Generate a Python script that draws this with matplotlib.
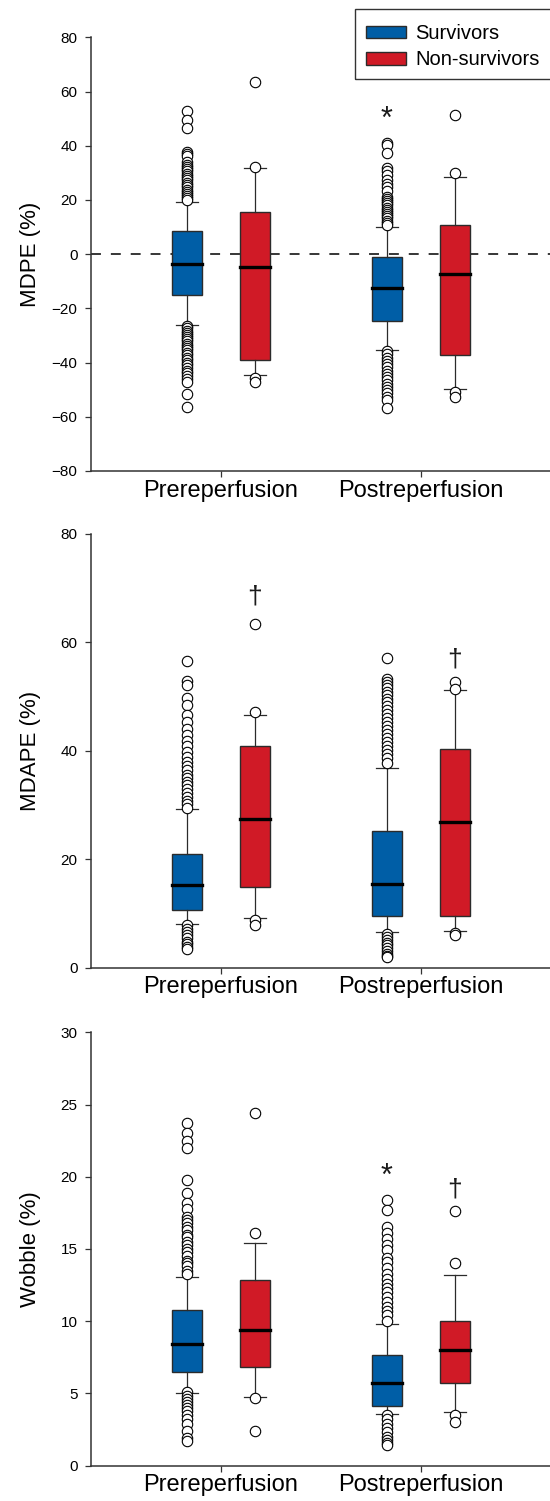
import matplotlib
matplotlib.use("Agg")
import matplotlib.pyplot as plt
from matplotlib.patches import Patch, Rectangle

plt.rcParams['font.family'] = ['Liberation Sans', 'DejaVu Sans']

groups = ['Prereperfusion', 'Postreperfusion']
series = ['Survivors', 'Non-survivors']
colors = ['#005EA6', '#D01A26']

# box order: survivors pre, non-survivors pre, survivors post, non-survivors post
# each box: [q1, median, q3, lower whisker, upper whisker]
mdpe_boxes = [[-15.2, -3.8, 8.4, -26.0, 19.4],
              [-39.2, -4.9, 15.7, -44.7, 31.7],
              [-24.5, -12.5, -0.9, -35.4, 10.1],
              [-37.1, -7.2, 10.9, -49.9, 28.4]]
mdpe_fliers = [
    [52.8, 49.5, 46.6, 37.8, 37.0, 36.3, 34.0, 33.0, 32.2, 31.4, 30.5, 29.6, 28.8,
     28.0, 27.2, 26.4, 25.5, 24.6, 23.8, 23.0, 22.2, 21.4, 20.6, 19.9,
     -26.6, -27.4, -28.2, -29.0, -29.8, -30.6, -31.4, -32.2, -33.0, -33.8, -34.6,
     -35.5, -36.4, -37.3, -38.2, -39.1, -40.0, -41.0, -42.0, -43.0, -44.0, -45.0,
     -46.0, -47.0, -51.7, -56.5],
    [63.5, 32.3, -45.6, -47.2],
    [40.9, 40.1, 37.5, 31.6, 30.5, 29.2, 27.4, 25.9, 24.8, 23.3, 21.0, 20.2, 19.5,
     18.8, 18.0, 17.2, 16.4, 15.6, 14.8, 14.0, 13.2, 12.4, 11.6, 10.8,
     -35.8, -37.0, -38.2, -39.4, -40.6, -41.8, -43.0, -44.2, -45.4, -46.6, -47.8,
     -49.0, -50.2, -51.4, -52.6, -53.8, -56.7],
    [51.2, 29.8, -50.8, -52.6]]

mdape_boxes = [[10.6, 15.3, 21.0, 8.05, 29.2],
               [14.8, 27.5, 40.9, 9.1, 46.6],
               [9.5, 15.4, 25.2, 6.5, 36.9],
               [9.5, 26.8, 40.4, 6.7, 51.2]]
mdape_fliers = [
    [56.5, 52.8, 52.1, 49.7, 48.5, 46.6, 45.3, 44.0, 42.9, 41.8, 40.8, 39.8, 38.9,
     38.0, 37.2, 36.4, 35.6, 35.0, 34.3, 33.6, 32.9, 32.2, 31.5, 30.8, 30.1, 29.4,
     7.8, 7.2, 6.6, 6.0, 5.4, 4.8, 4.3, 3.9, 3.5],
    [63.4, 47.1, 8.7, 7.9],
    [57.0, 53.3, 52.7, 52.1, 51.5, 50.9, 50.3, 49.6, 48.9, 48.2, 47.5, 46.8, 46.0,
     45.2, 44.5, 43.8, 43.0, 42.3, 41.6, 40.9, 40.2, 39.4, 38.6, 37.8,
     6.3, 5.7, 5.1, 4.6, 4.1, 3.6, 3.1, 2.6, 2.2, 1.9],
    [52.6, 51.3, 6.4, 6.0]]

wobble_boxes = [[6.46, 8.45, 10.75, 5.03, 13.06],
                [6.83, 9.37, 12.86, 4.75, 15.39],
                [4.15, 5.72, 7.66, 3.55, 9.81],
                [5.75, 8.01, 10.04, 3.74, 13.2]]
wobble_fliers = [
    [23.7, 23.0, 22.5, 22.0, 19.8, 18.9, 18.2, 17.8, 17.2, 17.0, 16.8, 16.5, 16.3,
     16.0, 15.8, 15.5, 15.3, 15.0, 14.8, 14.5, 14.2, 14.0, 13.8, 13.5, 13.3,
     5.1, 4.8, 4.6, 4.4, 4.2, 4.0, 3.8, 3.5, 3.2, 2.9, 2.4, 1.9, 1.7],
    [24.4, 16.1, 4.7, 2.4],
    [18.4, 17.7, 16.5, 16.1, 15.7, 15.3, 14.9, 14.4, 14.1, 13.7, 13.3, 12.9, 12.6,
     12.3, 12.0, 11.7, 11.3, 11.0, 10.7, 10.4, 10.0,
     3.5, 3.2, 2.9, 2.6, 2.3, 2.0, 1.8, 1.6, 1.4],
    [17.6, 14.0, 3.5, 3.0]]

# significance marks: (box index, value, symbol)
mdpe_marks = [(2, 51.7, '*')]
mdape_marks = [(1, 68.4, '\u2020'), (3, 56.8, '\u2020')]
wobble_marks = [(2, 20.4, '*'), (3, 19.15, '\u2020')]

panels = [
    ('MDPE (%)', mdpe_boxes, mdpe_fliers, mdpe_marks, (-80, 80), range(-80, 81, 20)),
    ('MDAPE (%)', mdape_boxes, mdape_fliers, mdape_marks, (0, 80), range(0, 81, 20)),
    ('Wobble (%)', wobble_boxes, wobble_fliers, wobble_marks, (0, 30), range(0, 31, 5)),
]

fig = plt.figure(figsize=(5.5, 15.01), dpi=100)
rects = [[0.1655, 0.68621, 0.8345, 0.28894],
         [0.1655, 0.35530, 0.8345, 0.28914],
         [0.1655, 0.02352, 0.8345, 0.28874]]

offset = 0.17
positions = []
for g in range(len(groups)):
    positions += [g + 1 - offset, g + 1 + offset]

edge = '#2b2b2b'
for rect, (ylabel, boxes, fliers, marks, ylim, yticks) in zip(rects, panels):
    ax = fig.add_axes(rect)
    stats = []
    for b, f in zip(boxes, fliers):
        stats.append(dict(q1=b[0], med=b[1], q3=b[2], whislo=b[3], whishi=b[4], fliers=f))
    bp = ax.bxp(stats, positions=positions, widths=0.153, patch_artist=True,
                capwidths=0.11,
                boxprops=dict(edgecolor=edge, linewidth=1.0),
                whiskerprops=dict(color=edge, linewidth=0.9),
                capprops=dict(color=edge, linewidth=0.9),
                medianprops=dict(color='black', linewidth=2.4, solid_capstyle='projecting'),
                flierprops=dict(marker='o', markersize=7.5, markerfacecolor='white',
                                markeredgecolor='black', markeredgewidth=0.8))
    for i, patch in enumerate(bp['boxes']):
        patch.set_facecolor(colors[i % 2])
    for idx, val, sym in marks:
        # the asterisk glyph sits high in the em box, so nudge it down
        if sym == '*':
            ax.annotate(sym, (positions[idx], val), xytext=(0, -6), textcoords='offset pixels',
                        ha='center', va='center', fontsize=22, color='#1a1a1a')
        else:
            ax.annotate(sym, (positions[idx], val), ha='center', va='center',
                        fontsize=19, color='#1a1a1a')

    if ylim[0] < 0:
        ax.axhline(0, color='black', linewidth=1.1, linestyle=(0, (6.5, 6.5)), zorder=0.5)

    ax.set_xlim(0.351, 2.645)
    ax.set_ylim(*ylim)
    ax.set_yticks(list(yticks))
    ax.set_xticks([1, 2])
    ax.set_xticklabels(groups, fontsize=17)
    ax.tick_params(axis='y', labelsize=11, length=4.3, width=0.9, pad=5.5, color='#333333')
    ax.tick_params(axis='x', length=4.3, width=0.9, pad=2, color='#333333')
    ax.spines['top'].set_visible(False)
    ax.spines['right'].set_visible(False)
    for s in ['left', 'bottom']:
        ax.spines[s].set_linewidth(1.1)
        ax.spines[s].set_color('#333333')
    ax.set_ylabel(ylabel, fontsize=16)
    ax.yaxis.set_label_coords(-0.11, 0.5)

# legend: the frame runs off the right edge of the figure, so draw it separately
handles = [Patch(facecolor=c, edgecolor=edge, linewidth=1.0) for c in colors]
fig.legend(handles, series, loc='upper left', bbox_to_anchor=(355 / 550, 1 - 13.3 / 1501),
           bbox_transform=fig.transFigure, borderaxespad=0, fontsize=14.5,
           handlelength=2.0, handleheight=0.57, handletextpad=0.45,
           borderpad=0.55, labelspacing=0.35, frameon=False)
fig.patches.append(Rectangle((355 / 550, (1501 - 79.3) / 1501), 215 / 550, 70 / 1501,
                             transform=fig.transFigure, facecolor='none',
                             edgecolor='#333333', linewidth=1.0))

fig.savefig('out.png', dpi=100)
